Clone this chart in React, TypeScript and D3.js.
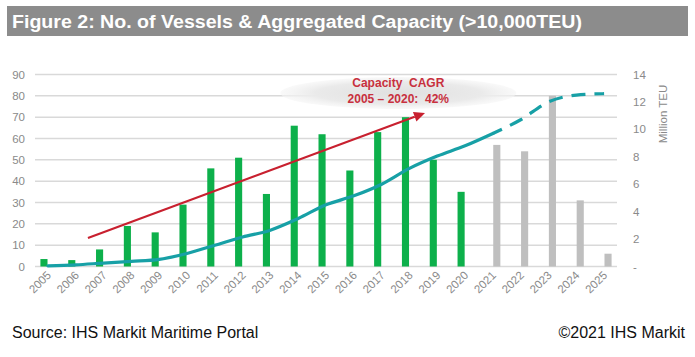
import React from "react";
import * as d3 from "d3";

const years = ["2005","2006","2007","2008","2009","2010","2011","2012","2013","2014","2015","2016","2017","2018","2019","2020","2021","2022","2023","2024","2025"];
const actualYears = years.slice(0, 16);
const forecastYears = years.slice(16);
const vesselsActual = [3.5, 3, 8, 19, 16, 29, 46, 51, 34, 66, 62, 45, 63, 70, 50, 35];
const vesselsForecast = [57, 54, 80, 31, 6];
const capacity = [0.05, 0.12, 0.25, 0.37, 0.52, 0.95, 1.55, 2.15, 2.65, 3.5, 4.5, 5.15, 6.0, 7.15, 8.05, 8.8, 9.7, 10.7, 12.0, 12.5, 12.6];
const leftTicks = [0, 10, 20, 30, 40, 50, 60, 70, 80, 90];
const rightTicks = [0, 2, 4, 6, 8, 10, 12, 14];
const titleText = "Figure 2: No. of Vessels & Aggregated Capacity (>10,000TEU)";
const sourceText = "Source: IHS Markit Maritime Portal";
const copyrightText = "©2021 IHS Markit";
const noteLines = ["Capacity\u00a0 CAGR", "2005 \u2013 2020:\u00a0 42%"];
// arrow endpoints in (category index, left-axis value)
const arrowPts: [number, number][] = [[1.44, 13.4], [13.56, 72]];

const W = 695, H = 357;
const FONT = "'Liberation Sans', Arial, sans-serif";

export default function App() {
  const x = d3.scaleBand<string>().domain(years).range([34, 618]).padding(0);
  const bw = x.bandwidth();
  const sub = d3.scaleBand<string>().domain(["a", "f"]).range([bw / 2 - 7.5, bw / 2 + 7.5]).paddingInner(0.1);
  const y = d3.scaleLinear().domain([0, 90]).range([266.5, 74.5]);
  const y2 = d3.scaleLinear().domain([0, 14]).range([266.5, 74.5]);
  const xi = d3.scaleLinear().domain([0, years.length - 1]).range([x(years[0])! + bw / 2, x(years[years.length - 1])! + bw / 2]);

  const line = d3.line<number>().x((_, i) => xi(i)).y(d => y2(d)).curve(d3.curveMonotoneX);
  const solidData = capacity.slice(0, 17);
  const lineDash = d3.line<[number, number]>().x(d => xi(d[0])).y(d => y2(d[1])).curve(d3.curveMonotoneX);
  const dashData: [number, number][] = capacity.map((v, i) => [i, v] as [number, number]).slice(16);

  const [a0, a1] = arrowPts;
  const ax0 = xi(a0[0]), ay0 = y(a0[1]), ax1 = xi(a1[0]), ay1 = y(a1[1]);
  const ang = Math.atan2(ay1 - ay0, ax1 - ax0);
  const hl = 11, hw = 5;
  const bx = ax1 - hl * Math.cos(ang), by = ay1 - hl * Math.sin(ang);
  const head = `M${ax1},${ay1}L${bx + hw * Math.sin(ang)},${by - hw * Math.cos(ang)}L${bx - hw * Math.sin(ang)},${by + hw * Math.cos(ang)}Z`;

  const noteCx = xi(12.6), noteCy = y(81.3);

  return (
    <svg width={W} height={H} style={{ position: "absolute", left: 0, top: 0, background: "#fff" }} fontFamily={FONT}>
      <defs>
        <radialGradient id="ell" cx="50%" cy="50%" r="50%">
          <stop offset="0%" stopColor="#e0e0e0" />
          <stop offset="70%" stopColor="#eaeaea" />
          <stop offset="100%" stopColor="#f5f5f5" stopOpacity="0.6" />
        </radialGradient>
      </defs>
      {/* title bar */}
      <rect x={7} y={6} width={681} height={30} fill="#8c8c8c" />
      <text x={12} y={28} fill="#fff" fontSize={18} fontWeight="bold" textLength={570} lengthAdjust="spacingAndGlyphs">{titleText}</text>

      {/* gridlines */}
      {leftTicks.map(t => (
        <line key={t} x1={35} x2={617} y1={y(t)} y2={y(t)} stroke="#d9d9d9" strokeWidth={1.5} />
      ))}
      {/* left axis labels */}
      {leftTicks.map(t => (
        <text key={"l" + t} x={25} y={y(t) + 4} textAnchor="end" fontSize={11.5} fill="#8a8a8a">{t}</text>
      ))}
      {/* right axis labels */}
      {rightTicks.map(t => (
        <text key={"r" + t} x={633} y={y2(t) + 4} textAnchor="start" fontSize={11.5} fill="#8a8a8a">{t === 0 ? "-" : t}</text>
      ))}
      <text transform={`translate(667,114) rotate(-90)`} textAnchor="middle" fontSize={11.5} fill="#8a8a8a">Million TEU</text>

      {/* annotation ellipse */}
      <ellipse cx={noteCx} cy={noteCy} rx={118} ry={16} fill="url(#ell)" />

      {/* bars */}
      {actualYears.map((yr, i) => (
        <rect key={yr} x={x(yr)! + sub("a")!} width={sub.bandwidth()} y={y(vesselsActual[i])} height={y(0) - y(vesselsActual[i])} fill="#0db04b" />
      ))}
      {forecastYears.map((yr, i) => (
        <rect key={yr} x={x(yr)! + sub("f")!} width={sub.bandwidth()} y={y(vesselsForecast[i])} height={y(0) - y(vesselsForecast[i])} fill="#bfbfbf" />
      ))}

      {/* capacity line */}
      <path d={line(solidData)!} fill="none" stroke="#17a0a6" strokeWidth={3.2} strokeLinecap="round" />
      <path d={lineDash(dashData)!} fill="none" stroke="#17a0a6" strokeWidth={3.2} strokeDasharray="10,9,14,9,14,9,14,9,14,9,14,9" />

      {/* CAGR arrow */}
      <line x1={ax0} y1={ay0} x2={bx} y2={by} stroke="#c8202f" strokeWidth={2.2} />
      <path d={head} fill="#c8202f" />

      {/* annotation text */}
      {noteLines.map((t, i) => (
        <text key={i} x={noteCx} y={noteCy - 6 + i * 16} textAnchor="middle" fontSize={12} fontWeight="bold" fill="#c8303e">{t}</text>
      ))}

      {/* x labels */}
      {years.map(yr => {
        const cx = x(yr)! + bw / 2 + 4;
        return (
          <text key={"x" + yr} transform={`translate(${cx},${276}) rotate(-45)`} textAnchor="end" fontSize={11.5} fill="#8a8a8a">{yr}</text>
        );
      })}

      {/* footer */}
      <text x={12} y={338} fontSize={16} fill="#111">{sourceText}</text>
      <text x={685} y={338} fontSize={16} fill="#111" textAnchor="end">{copyrightText}</text>
    </svg>
  );
}
